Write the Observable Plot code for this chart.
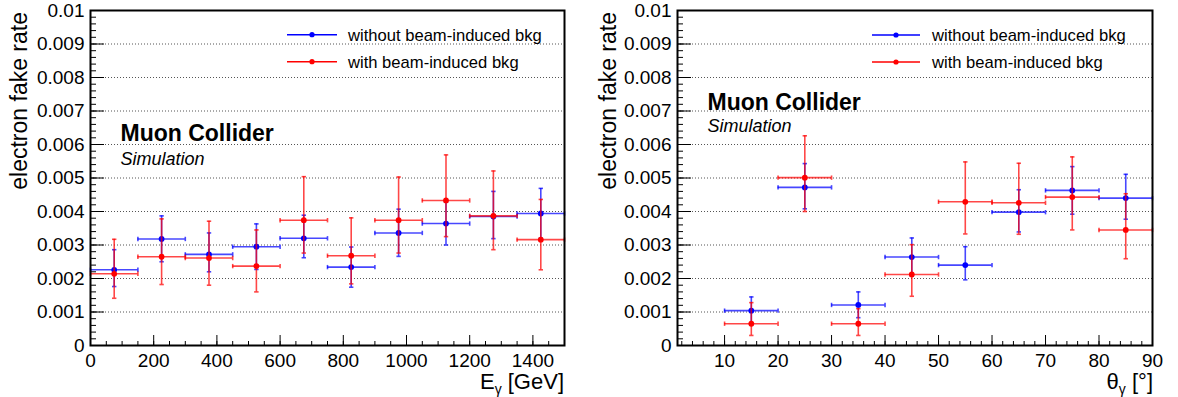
<!DOCTYPE html>
<html>
<head>
<meta charset="utf-8">
<script src="https://cdn.jsdelivr.net/npm/d3@7"></script>
<script src="https://cdn.jsdelivr.net/npm/@observablehq/plot@0.6"></script>
<style>
  html, body { margin: 0; padding: 0; background: #ffffff; }
  #wrap { position: relative; width: 1178px; height: 397px; overflow: hidden; font-family: "Liberation Sans", Arial, sans-serif; }
  .panel { position: absolute; top: 0; }
  #overlay { position: absolute; left: 0; top: 0; pointer-events: none; }
</style>
</head>
<body>
<div id="wrap">
  <div class="panel" id="left" style="left:0px"></div>
  <div class="panel" id="right" style="left:589px"></div>
  <svg id="overlay" width="1178" height="397" font-family="Liberation Sans, Arial, sans-serif"></svg>
</div>
<script>
// ---------------- data ----------------
// Left panel: photon energy bins [GeV]
const energyEdges = [0, 150, 300, 450, 600, 750, 900, 1050, 1200, 1350, 1500];
const energyTickLabels = [0, 200, 400, 600, 800, 1000, 1200, 1400];
const rateE_noBkg    = [0.00226, 0.00318, 0.00272, 0.00295, 0.00320, 0.00234, 0.00336, 0.00364, 0.00385, 0.00394];
const rateE_noBkgUp  = [0.00286, 0.00387, 0.00336, 0.00363, 0.00389, 0.00294, 0.00407, 0.00428, 0.00460, 0.00469];
const rateE_noBkgLo  = [0.00176, 0.00250, 0.00220, 0.00227, 0.00262, 0.00174, 0.00266, 0.00300, 0.00319, 0.00320];
const rateE_bkg      = [0.00214, 0.00265, 0.00261, 0.00237, 0.00374, 0.00268, 0.00374, 0.00433, 0.00387, 0.00316];
const rateE_bkgUp    = [0.00317, 0.00378, 0.00371, 0.00345, 0.00504, 0.00381, 0.00503, 0.00569, 0.00521, 0.00436];
const rateE_bkgLo    = [0.00141, 0.00182, 0.00180, 0.00160, 0.00276, 0.00184, 0.00276, 0.00325, 0.00286, 0.00226];

// Right panel: photon polar angle bins [deg]
const thetaEdges = [10, 20, 30, 40, 50, 60, 70, 80, 90];
const thetaTickLabels = [10, 20, 30, 40, 50, 60, 70, 80, 90];
const rateT_noBkg    = [0.00104, 0.00472, 0.00121, 0.00264, 0.00240, 0.00398, 0.00463, 0.00440];
const rateT_noBkgUp  = [0.00145, 0.00543, 0.00160, 0.00321, 0.00295, 0.00465, 0.00534, 0.00511];
const rateT_noBkgLo  = [0.00063, 0.00408, 0.00083, 0.00207, 0.00196, 0.00339, 0.00392, 0.00377];
const rateT_bkg      = [0.00065, 0.00501, 0.00065, 0.00212, 0.00429, 0.00426, 0.00443, 0.00345];
const rateT_bkgUp    = [0.00128, 0.00626, 0.00110, 0.00301, 0.00548, 0.00544, 0.00563, 0.00453];
const rateT_bkgLo    = [0.00030, 0.00400, 0.00030, 0.00147, 0.00333, 0.00332, 0.00345, 0.00259];

const yTickLabels = [0, 0.001, 0.002, 0.003, 0.004, 0.005, 0.006, 0.007, 0.008, 0.009, 0.01];
const seriesNames = ["without beam-induced bkg", "with beam-induced bkg"];
const seriesColors = ["#0000ff", "#ff0000"];

// ---------------- helpers ----------------
const hCap = {draw(ctx, size) { const r = Math.sqrt(size / Math.PI); ctx.moveTo(-r, 0); ctx.lineTo(r, 0); }};
const vCap = {draw(ctx, size) { const r = Math.sqrt(size / Math.PI); ctx.moveTo(0, -r); ctx.lineTo(0, r); }};

function rows(edges, vals, up, lo) {
  return vals.map((v, i) => ({
    x: (edges[i] + edges[i + 1]) / 2, x1: edges[i], x2: edges[i + 1], y: v, y1: lo[i], y2: up[i]
  }));
}

function seriesMarks(data, color) {
  const lw = {stroke: color, strokeWidth: 1.6, strokeOpacity: 0.72};
  return [
    Plot.ruleY(data, {y: "y", x1: "x1", x2: "x2", ...lw}),
    Plot.ruleX(data, {x: "x", y1: "y1", y2: "y2", ...lw}),
    Plot.dot(data, {x: "x", y: "y2", symbol: hCap, r: 2.2, fill: "none", ...lw}),
    Plot.dot(data, {x: "x", y: "y1", symbol: hCap, r: 2.2, fill: "none", ...lw}),
    Plot.dot(data, {x: "x1", y: "y", symbol: vCap, r: 2.2, fill: "none", ...lw}),
    Plot.dot(data, {x: "x2", y: "y", symbol: vCap, r: 2.2, fill: "none", ...lw}),
    Plot.dot(data, {x: "x", y: "y", r: 2.9, fill: color, stroke: "none"})
  ];
}

function panel({width, marginLeft, marginRight, xDomain, xLabels, xMinorStep, blue, red}) {
  const marginTop = 10, marginBottom = 52, height = 397;
  const fw = width - marginLeft - marginRight;
  const fh = height - marginTop - marginBottom;
  const yDomain = [0, 0.01];
  const dx = px => px / fw * (xDomain[1] - xDomain[0]);
  const dy = px => px / fh * (yDomain[1] - yDomain[0]);
  const yMinor = d3.range(0, 0.01 + 1e-9, 0.0002).map(v => +v.toFixed(5));
  const xMinor = d3.range(Math.ceil(xDomain[0] / xMinorStep) * xMinorStep, xDomain[1] + 1e-9, xMinorStep);
  const grid = yTickLabels.filter(v => v > 0 && v < 0.01);
  return Plot.plot({
    width, height, marginLeft, marginRight, marginTop, marginBottom,
    x: {domain: xDomain, label: null},
    y: {domain: yDomain, label: null},
    style: {fontFamily: "Liberation Sans, Arial, sans-serif", background: "transparent", color: "black", overflow: "visible"},
    marks: [
      Plot.gridY(grid, {stroke: "#555", strokeOpacity: 1, strokeWidth: 1, strokeDasharray: "1,2"}),
      // y ticks (inside)
      Plot.ruleY(yMinor, {y: d => d, x1: xDomain[0], x2: xDomain[0] + dx(6), stroke: "black", strokeWidth: 1}),
      Plot.ruleY(yTickLabels, {y: d => d, x1: xDomain[0], x2: xDomain[0] + dx(14), stroke: "black", strokeWidth: 1}),
      // x ticks (inside)
      Plot.ruleX(xMinor, {x: d => d, y1: 0, y2: dy(4), stroke: "black", strokeWidth: 1}),
      Plot.ruleX(xLabels, {x: d => d, y1: 0, y2: dy(10), stroke: "black", strokeWidth: 1}),
      Plot.axisY(yTickLabels, {anchor: "left", tickSize: 0, tickPadding: 6, fontSize: 19, label: null,
        tickFormat: d => String(d)}),
      Plot.axisX(xLabels, {anchor: "bottom", tickSize: 0, tickPadding: 8, fontSize: 19, label: null,
        tickFormat: d => String(d)}),
      ...seriesMarks(blue, seriesColors[0]),
      ...seriesMarks(red, seriesColors[1]),
      Plot.frame({stroke: "black", strokeWidth: 2})
    ]
  });
}

document.getElementById("left").appendChild(panel({
  width: 589, marginLeft: 90, marginRight: 25,
  xDomain: [0, 1500], xLabels: energyTickLabels, xMinorStep: 50,
  blue: rows(energyEdges, rateE_noBkg, rateE_noBkgUp, rateE_noBkgLo),
  red: rows(energyEdges, rateE_bkg, rateE_bkgUp, rateE_bkgLo)
}));
document.getElementById("right").appendChild(panel({
  width: 589, marginLeft: 88, marginRight: 26,
  xDomain: [1.2, 90], xLabels: thetaTickLabels, xMinorStep: 2,
  blue: rows(thetaEdges, rateT_noBkg, rateT_noBkgUp, rateT_noBkgLo),
  red: rows(thetaEdges, rateT_bkg, rateT_bkgUp, rateT_bkgLo)
}));

// ---------------- overlay texts & legends ----------------
const ov = d3.select("#overlay");
function yTitle(x, yEnd) {
  ov.append("text").attr("transform", `translate(${x},${yEnd}) rotate(-90)`)
    .attr("text-anchor", "end").attr("font-size", 23).attr("fill", "black").text("electron fake rate");
}
yTitle(27, 12);
yTitle(616, 12);

function xTitle(xRight, base, sym, unit) {
  const t = ov.append("text").attr("x", xRight).attr("y", base).attr("text-anchor", "end")
    .attr("font-size", 22).attr("fill", "black");
  t.append("tspan").text(sym);
  t.append("tspan").attr("font-size", 14).attr("dy", 5).text("γ");
  t.append("tspan").attr("dy", -5).text(" " + unit);
}
xTitle(564, 389, "E", "[GeV]");
xTitle(1153, 389, "θ", "[°]");

function label(x, yMuon, ySim) {
  ov.append("text").attr("x", x).attr("y", yMuon).attr("font-size", 23).attr("font-weight", "bold")
    .attr("fill", "black").text("Muon Collider");
  ov.append("text").attr("x", x).attr("y", ySim).attr("font-size", 18).attr("font-style", "italic")
    .attr("fill", "black").text("Simulation");
}
label(120.5, 141, 165);
label(707.5, 110, 132);

function legend(x0, x1, xt, ys) {
  seriesNames.forEach((name, i) => {
    const y = ys[i];
    ov.append("line").attr("x1", x0).attr("x2", x1).attr("y1", y).attr("y2", y)
      .attr("stroke", seriesColors[i]).attr("stroke-width", 1.4);
    ov.append("circle").attr("cx", (x0 + x1) / 2).attr("cy", y).attr("r", 2.6).attr("fill", seriesColors[i]);
    ov.append("text").attr("x", xt).attr("y", y + 6).attr("font-size", 16.6).attr("fill", "black").text(name);
  });
}
legend(287, 337, 348, [34.7, 61.7]);
legend(872, 920, 932, [35, 62]);
</script>
</body>
</html>
